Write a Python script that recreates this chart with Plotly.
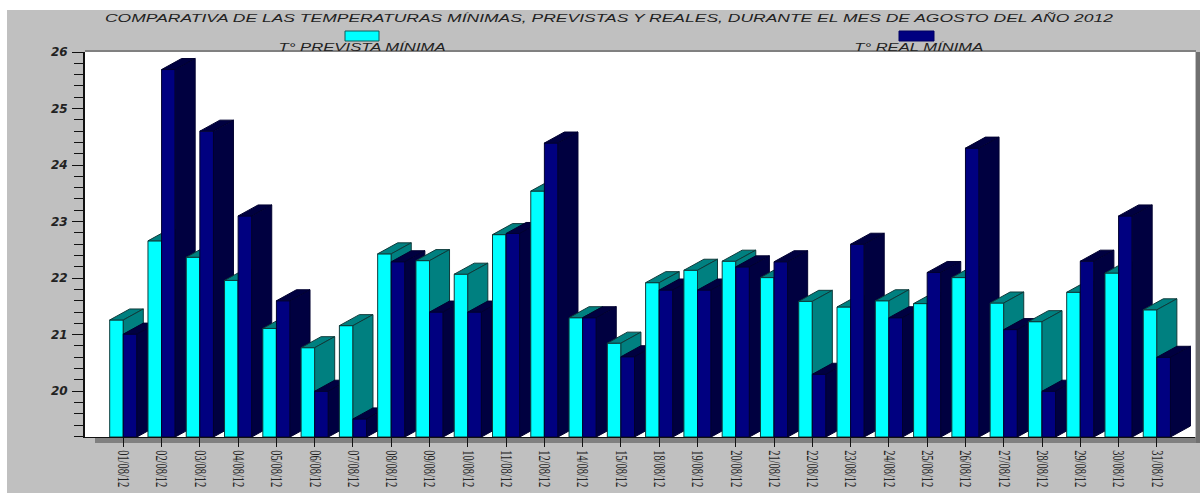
import plotly.graph_objects as go

# ---- data ----
dates = ["01/08/12","02/08/12","03/08/12","04/08/12","05/08/12","06/08/12","07/08/12","08/08/12",
         "09/08/12","10/08/12","11/08/12","12/08/12","14/08/12","15/08/12","18/08/12","19/08/12",
         "20/08/12","21/08/12","22/08/12","23/08/12","24/08/12","25/08/12","26/08/12","27/08/12",
         "28/08/12","29/08/12","30/08/12","31/08/12"]
prevista = [21.26,22.66,22.37,21.96,21.11,20.77,21.16,22.43,22.31,22.07,22.77,23.54,21.30,20.85,
            21.92,22.14,22.30,22.01,21.59,21.49,21.60,21.55,22.01,21.56,21.23,21.75,22.09,21.44]
real = [21.01,25.69,24.60,23.10,21.60,20.00,19.51,22.29,21.40,21.40,22.79,24.39,21.30,20.61,
        21.79,21.79,22.20,22.29,20.30,22.60,21.30,22.10,24.30,21.09,20.00,22.30,23.10,20.60]
title_text = "COMPARATIVA DE LAS TEMPERATURAS MÍNIMAS, PREVISTAS Y REALES, DURANTE EL MES DE AGOSTO DEL AÑO 2012"
name_a = "T° PREVISTA MÍNIMA"
name_b = "T° REAL MÍNIMA"

# ---- geometry (pixels of the plot frame) ----
W, H = 1200, 493
L, R, T, B = 85, 1195, 52, 437
Y_MIN, Y_MAX = 19.19, 26.0
TICK0, STEP = 123.3, 38.28
PX_Y = (B - T) / (Y_MAX - Y_MIN)
BAR_W = 13.6 / STEP
DX = 20 / STEP
DY = 11 / PX_Y

def fx(p): return (p - L) / (R - L)
def fy(p): return (B - p) / (B - T)

CYAN, TEAL, NAVY, DARK = "#00FFFF", "#008080", "#000080", "#000040"

fig = go.Figure()

def poly(xs, ys, fill, edge, name):
    fig.add_trace(go.Scatter(x=xs + [xs[0]], y=ys + [ys[0]], mode="lines", fill="toself",
                             fillcolor=fill, line=dict(color=edge, width=1),
                             hoverinfo="skip", showlegend=False, name=name))

def bar3d(x0, v, front, dark, edge, name):
    x1 = x0 + BAR_W
    poly([x0, x1, x1, x0], [Y_MIN, Y_MIN, v, v], front, edge, name)
    poly([x0, x1, x1 + DX, x0 + DX], [v, v, v + DY, v + DY], dark, edge, name)
    poly([x1, x1 + DX, x1 + DX, x1], [Y_MIN, Y_MIN + DY, v + DY, v], dark, edge, name)

for i, (a, b) in enumerate(zip(prevista, real)):
    bar3d(i - BAR_W, a, CYAN, TEAL, "#0E3A3A", name_a)
    bar3d(i, b, NAVY, DARK, "#000030", name_b)

GREY = "#C0C0C0"
shapes = [
    dict(type="rect", xref="paper", yref="paper", x0=fx(0), x1=fx(7), y0=fy(H), y1=fy(0),
         fillcolor="white", line_width=0, layer="below"),
    dict(type="rect", xref="paper", yref="paper", x0=fx(0), x1=fx(W), y0=fy(10), y1=fy(0),
         fillcolor="white", line_width=0, layer="below"),
    dict(type="rect", xref="paper", yref="paper", x0=fx(95), x1=fx(W), y0=fy(443), y1=fy(B),
         fillcolor="#808080", line_width=0, layer="below"),
    dict(type="rect", xref="paper", yref="paper", x0=fx(R + 1), x1=fx(W), y0=fy(443), y1=fy(T),
         fillcolor="#707070", line_width=0, layer="below"),
    dict(type="rect", xref="paper", yref="paper", x0=fx(L), x1=fx(R + 1), y0=fy(T), y1=fy(T - 2),
         fillcolor="#808080", line_width=0, layer="below"),
    dict(type="rect", xref="paper", yref="paper", x0=fx(345), x1=fx(379), y0=fy(41), y1=fy(31),
         fillcolor=CYAN, line=dict(color="#0E5A5A", width=1)),
    dict(type="rect", xref="paper", yref="paper", x0=fx(899), x1=fx(934), y0=fy(41), y1=fy(31),
         fillcolor=NAVY, line=dict(color="#000060", width=1)),
]

legend_font = dict(family="Liberation Sans", size=11, style="italic", color="#222222")
annotations = [
    dict(text=name_a, xref="paper", yref="paper", x=fx(361.5), y=fy(46.5), showarrow=False,
         xanchor="center", yanchor="middle", font=legend_font),
    dict(text=name_b, xref="paper", yref="paper", x=fx(918.5), y=fy(46.5), showarrow=False,
         xanchor="center", yanchor="middle", font=legend_font),
]

fig.update_layout(
    template="none",
    width=W, height=H, autosize=False,
    margin=dict(l=L, r=W - R, t=T, b=H - B, pad=0, autoexpand=False),
    paper_bgcolor=GREY, plot_bgcolor="white",
    showlegend=False, shapes=shapes, annotations=annotations,
    title=dict(text=title_text, x=609 / W, xanchor="center", xref="container",
               y=1 - 18.5 / H, yanchor="middle", yref="container", automargin=False,
               font=dict(family="Liberation Sans", size=11, style="italic", color="#222222")),
    xaxis=dict(range=[(L - TICK0) / STEP, (R - TICK0) / STEP], automargin=False,
               tickmode="array", tickvals=list(range(len(dates))), ticktext=dates,
               tickangle=90, ticks="outside", ticklen=9, tickcolor="#111111", tickwidth=1,
               tickfont=dict(family="Liberation Sans Narrow", size=16, color="#222222"),
               showgrid=False, zeroline=False, showline=True, linecolor="#111111", linewidth=1),
    yaxis=dict(range=[Y_MIN, Y_MAX], tick0=20, dtick=1, automargin=False,
               ticks="outside", ticklen=11, tickcolor="#111111", tickwidth=1,
               ticklabelstandoff=2,
               minor=dict(dtick=0.2, tick0=20, ticks="outside", ticklen=9,
                          tickcolor="#111111", tickwidth=1, showgrid=False),
               tickfont=dict(family="DejaVu Sans", size=12, weight="bold", style="italic", color="#222222"),
               showgrid=False, zeroline=False, showline=True, linecolor="#111111", linewidth=2),
)

post = """
document.body.style.margin = '0';
document.body.style.overflow = 'hidden';
function fit(el, len) {
  if (!el) return;
  el.setAttribute('textLength', len);
  el.setAttribute('lengthAdjust', 'spacingAndGlyphs');
}
fit(document.querySelector('.gtitle'), 1008);
var notes = document.querySelectorAll('.annotation-text');
fit(notes[0], 167);
fit(notes[1], 129);
document.querySelectorAll('.xtick text').forEach(function (t) {
  var x = t.getAttribute('x'), y = t.getAttribute('y');
  var k = 37 / t.getComputedTextLength();
  var base = t.getAttribute('transform') || '';
  t.setAttribute('transform', base + ' translate(' + x + ',' + y + ') scale(' + k + ',1) translate(' + (-x) + ',' + (-y) + ')');
});
"""

fig.write_html("out.html", post_script=post, config={"displayModeBar": False})
